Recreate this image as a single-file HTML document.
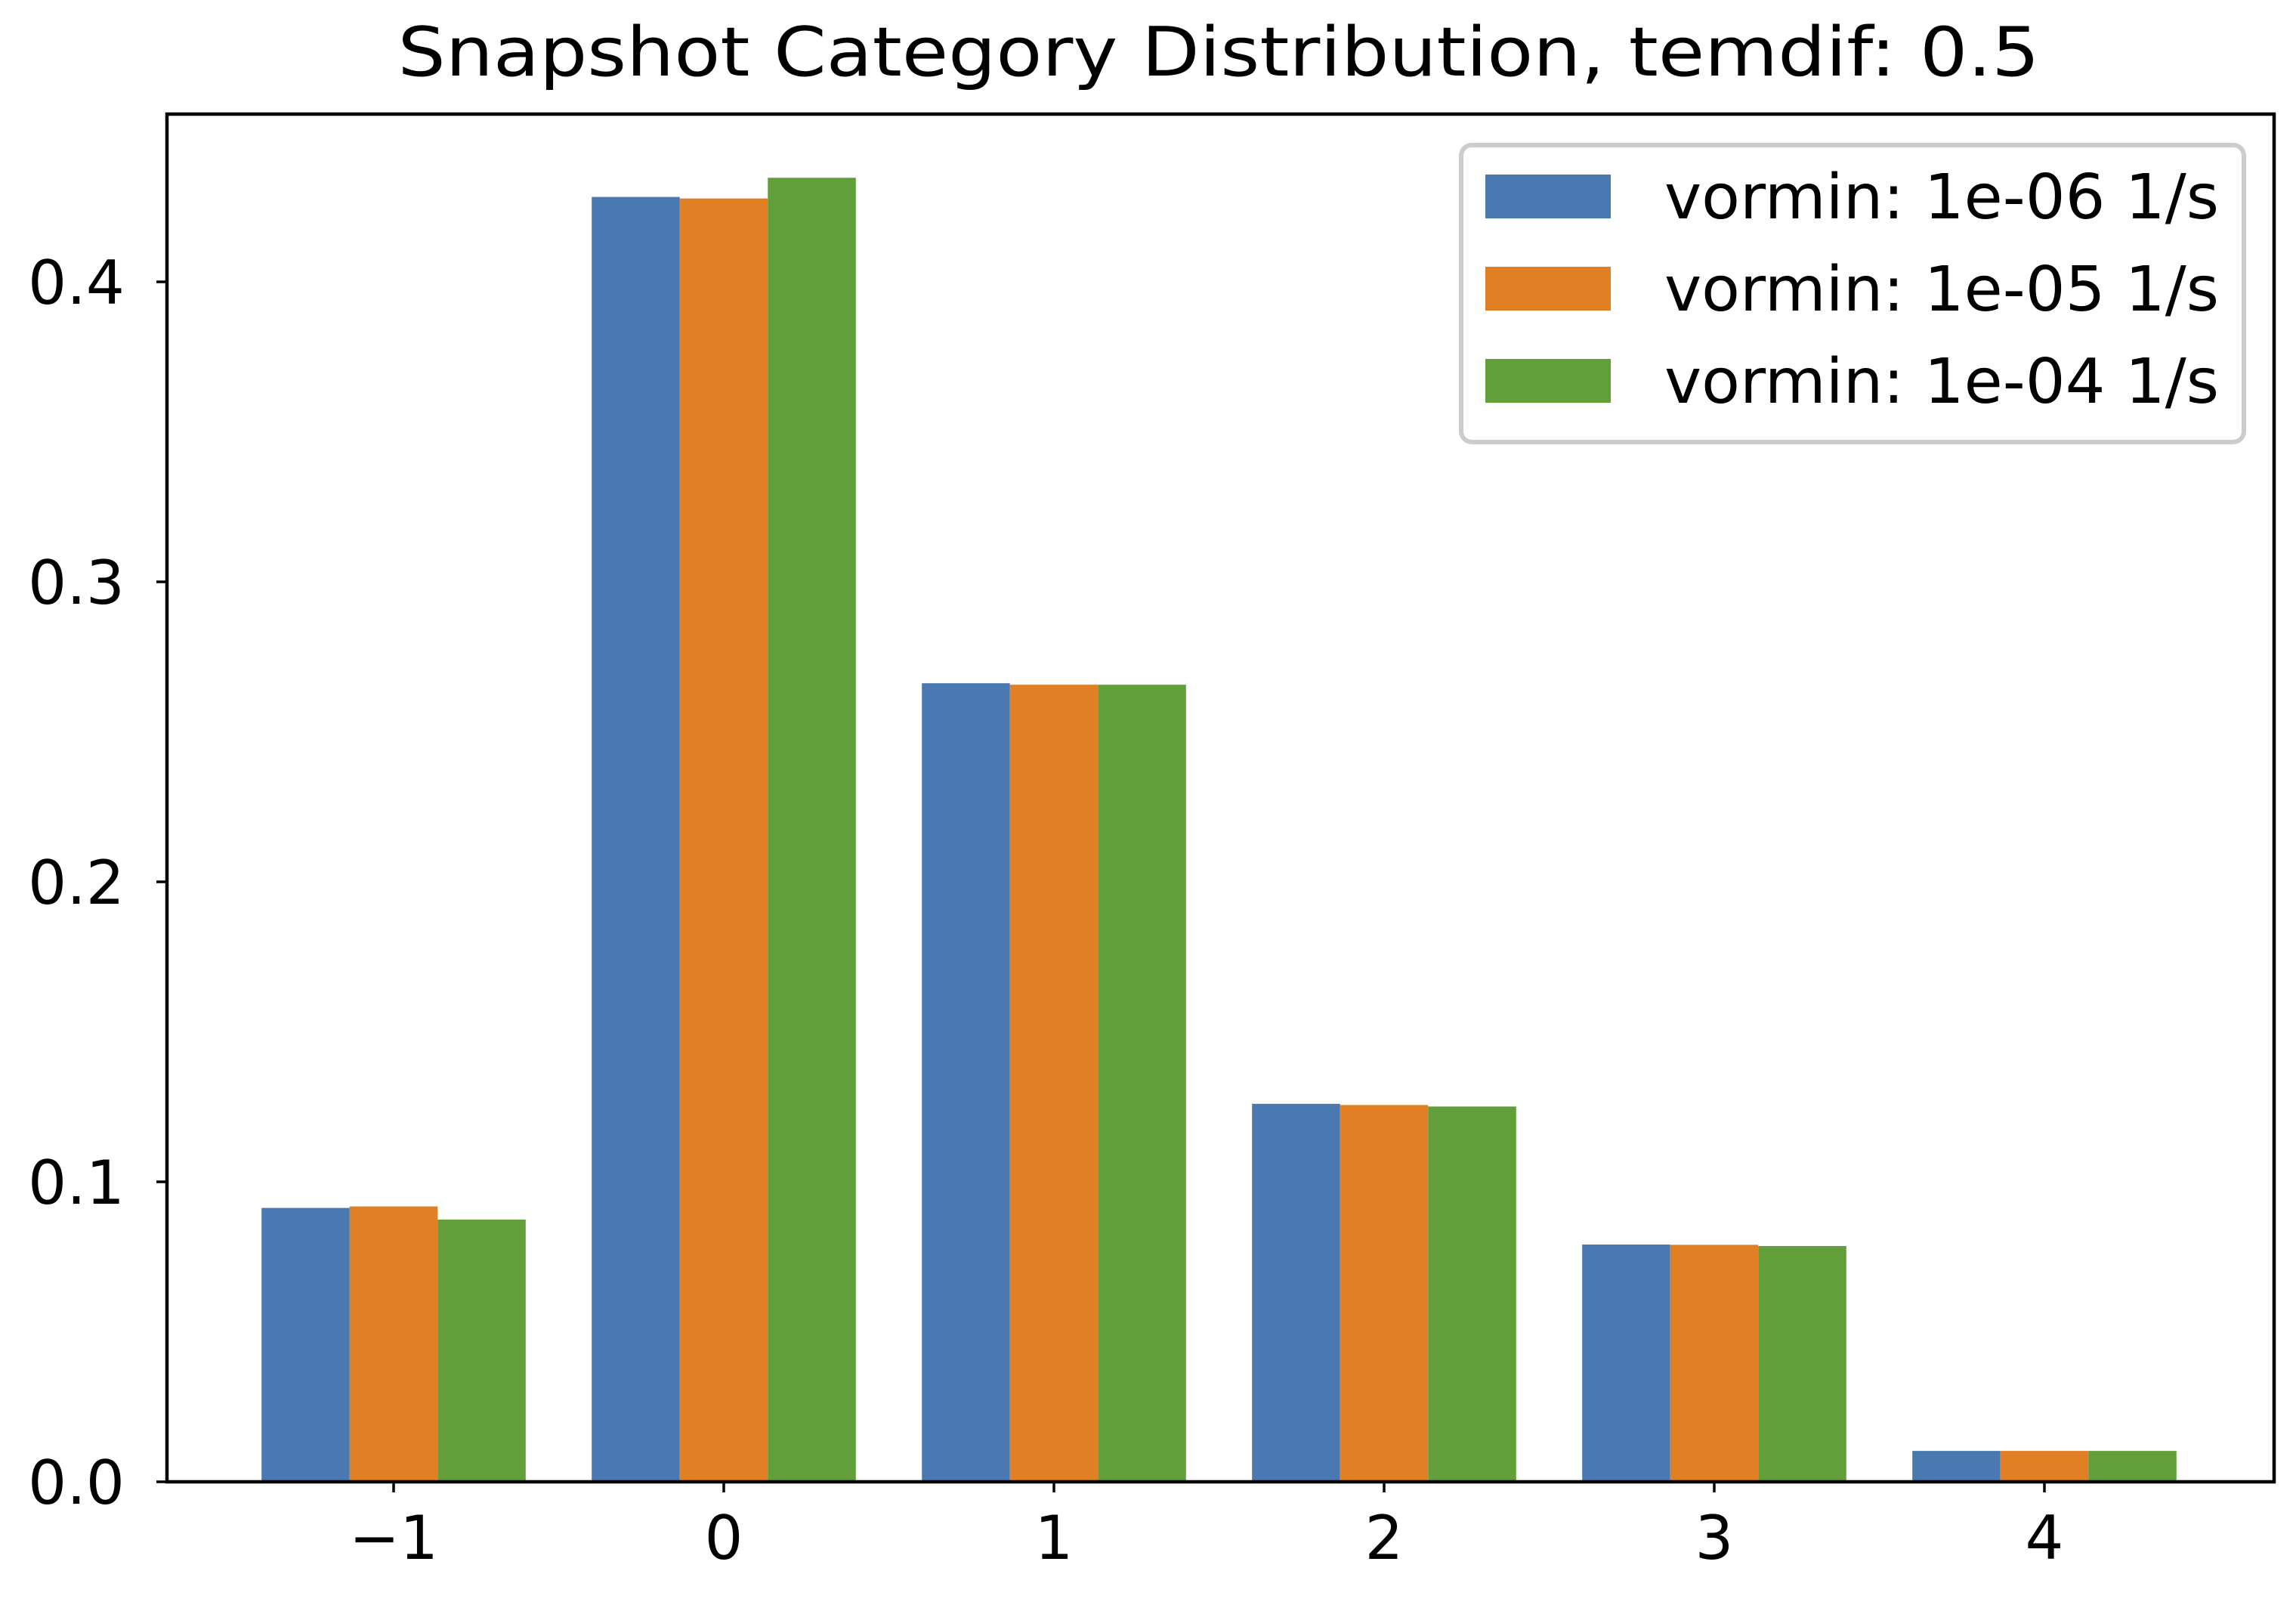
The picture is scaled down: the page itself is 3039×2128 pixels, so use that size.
<!DOCTYPE html>
<html><head><meta charset="utf-8"><style>
html,body{margin:0;padding:0;background:#fff}
svg text{font-family:"DejaVu Sans","Liberation Sans",sans-serif;fill:#000}
</style></head><body>
<svg id="chart" width="3039" height="2123" viewBox="0 0 3039 2123" xmlns="http://www.w3.org/2000/svg">
<rect width="3039" height="2123" fill="#fff"/>
<text x="1613" y="100" font-size="90" text-anchor="middle" textLength="2173" lengthAdjust="spacingAndGlyphs">Snapshot Category Distribution, temdif: 0.5</text>
<g id="bars"></g>
<g id="axes"></g>
<g>
<rect x="1934" y="192" width="1036" height="393" rx="14" fill="#fff" stroke="#cccccc" stroke-width="6"/>
<rect x="1966" y="231" width="166" height="58" fill="#4a78b1"/>
<text x="2203" y="289" font-size="82" textLength="734" lengthAdjust="spacingAndGlyphs">vormin: 1e-06 1/s</text>
<rect x="1966" y="353" width="166" height="58" fill="#e17f25"/>
<text x="2203" y="411" font-size="82" textLength="734" lengthAdjust="spacingAndGlyphs">vormin: 1e-05 1/s</text>
<rect x="1966" y="475" width="166" height="58" fill="#629f3a"/>
<text x="2203" y="533" font-size="82" textLength="734" lengthAdjust="spacingAndGlyphs">vormin: 1e-04 1/s</text>
</g>
</svg>
<script>
const categories = [-1, 0, 1, 2, 3, 4];
const series1e06 = [0.0913, 0.4283, 0.2662, 0.1260, 0.0791, 0.0103];
const series1e05 = [0.0918, 0.4278, 0.2657, 0.1256, 0.0790, 0.0103];
const series1e04 = [0.0874, 0.4347, 0.2657, 0.1251, 0.0786, 0.0103];
const seriesNames = ['1e-06', '1e-05', '1e-04'];
const yTicks = [0.0, 0.1, 0.2, 0.3, 0.4];
const yTickLabels = ['0.0', '0.1', '0.2', '0.3', '0.4'];
const xTickLabels = ['\u22121', '0', '1', '2', '3', '4'];

const NS = 'http://www.w3.org/2000/svg';
const L = 221, R = 3010, T = 151, B = 1961;
function xPos(c) { return 521 + (c - (-1)) * 437; }
function yPos(v) { return B - v * 3970; }
const colors = ['#4a78b1', '#e17f25', '#629f3a'];
const allSeries = [series1e06, series1e05, series1e04];
const bw = 437 * 0.8 / 3;
const gb = document.getElementById('bars');
allSeries.forEach((s, si) => {
  s.forEach((v, i) => {
    const r = document.createElementNS(NS, 'rect');
    const x = xPos(categories[i]) - 437 * 0.4 + si * bw;
    r.setAttribute('x', x);
    r.setAttribute('y', yPos(v));
    r.setAttribute('width', bw);
    r.setAttribute('height', B - yPos(v));
    r.setAttribute('fill', colors[si]);
    
    
    gb.appendChild(r);
  });
});
const ga = document.getElementById('axes');
const frame = document.createElementNS(NS, 'rect');
frame.setAttribute('x', L); frame.setAttribute('y', T);
frame.setAttribute('width', R - L); frame.setAttribute('height', B - T);
frame.setAttribute('fill', 'none'); frame.setAttribute('stroke', '#000'); frame.setAttribute('stroke-width', '4.5');


ga.appendChild(frame);
yTicks.forEach((t, i) => {
  const y = yPos(t);
  const ln = document.createElementNS(NS, 'line');
  ln.setAttribute('x1', L - 14); ln.setAttribute('x2', L); ln.setAttribute('y1', y); ln.setAttribute('y2', y);
  ln.setAttribute('stroke', '#000'); ln.setAttribute('stroke-width', '3.5');
  
  
  ga.appendChild(ln);
  const tx = document.createElementNS(NS, 'text');
  tx.setAttribute('x', L - 56); tx.setAttribute('y', y + 29);
  tx.setAttribute('font-size', '80'); tx.setAttribute('text-anchor', 'end');
  tx.setAttribute('textLength', '128'); tx.setAttribute('lengthAdjust', 'spacingAndGlyphs');
  tx.textContent = yTickLabels[i];
  
  
  ga.appendChild(tx);
});
categories.forEach((c, i) => {
  const x = xPos(c);
  const ln = document.createElementNS(NS, 'line');
  ln.setAttribute('x1', x); ln.setAttribute('x2', x); ln.setAttribute('y1', B); ln.setAttribute('y2', B + 14);
  ln.setAttribute('stroke', '#000'); ln.setAttribute('stroke-width', '3.5');
  
  
  ga.appendChild(ln);
  const tx = document.createElementNS(NS, 'text');
  tx.setAttribute('x', x); tx.setAttribute('y', B + 102);
  tx.setAttribute('font-size', '80'); tx.setAttribute('text-anchor', 'middle');
  tx.textContent = xTickLabels[i];
  
  
  ga.appendChild(tx);
});
</script>
</body></html>
